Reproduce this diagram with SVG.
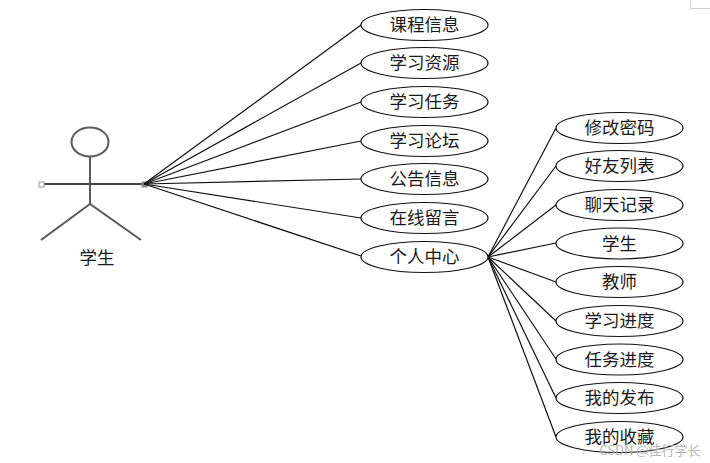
<svg xmlns="http://www.w3.org/2000/svg" width="710" height="463" viewBox="0 0 710 463">
<style>
.bg{fill:#fff}
.c line{stroke:#111;stroke-width:1.2}
.u ellipse{fill:#fff;stroke:#111;stroke-width:1.2}
text{font-family:"Noto Sans CJK SC","Noto Sans CJK JP",serif;font-size:17.500px;fill:#1a1a1a;text-anchor:middle}
.a{fill:none;stroke:#5a5a5a;stroke-width:2}
</style>
<rect class="bg" width="710" height="463"/>
<path d="M690.500 0V8.500H710" fill="none" stroke="#d0d0d0"/>
<g id="actor">
<ellipse class="a" cx="90" cy="142" rx="18.500" ry="14.500"/>
<path class="a" d="M90 157V204M41 240L90 204L141 240"/>
<path d="M44 184H145" fill="none" stroke="#444" stroke-width="2"/>
<rect x="39" y="182" width="5" height="5" fill="#fff" stroke="#999"/>
<rect x="142" y="182" width="5" height="5" fill="#888" stroke="#888"/>
<text x="97" y="264">学生</text>
</g>
<g id="connectors" class="c">
<line x1="144" y1="184" x2="361" y2="25"/>
<line x1="144" y1="184" x2="361" y2="63"/>
<line x1="144" y1="184" x2="361" y2="102"/>
<line x1="144" y1="184" x2="361" y2="141"/>
<line x1="144" y1="184" x2="361" y2="179"/>
<line x1="144" y1="184" x2="361" y2="218"/>
<line x1="144" y1="184" x2="361" y2="256"/>
<line x1="488" y1="257" x2="556" y2="128"/>
<line x1="488" y1="257" x2="556" y2="166"/>
<line x1="488" y1="257" x2="556" y2="205"/>
<line x1="488" y1="257" x2="556" y2="243"/>
<line x1="488" y1="257" x2="556" y2="282"/>
<line x1="488" y1="257" x2="556" y2="321"/>
<line x1="488" y1="257" x2="556" y2="359"/>
<line x1="488" y1="257" x2="556" y2="398"/>
<line x1="488" y1="257" x2="556" y2="437"/>
</g>
<g id="n1" class="u"><ellipse cx="424.500" cy="25" rx="63.500" ry="15.500"/><text x="424.500" y="31">课程信息</text></g>
<g id="n2" class="u"><ellipse cx="424.500" cy="63" rx="63.500" ry="15.500"/><text x="424.500" y="69">学习资源</text></g>
<g id="n3" class="u"><ellipse cx="424.500" cy="102" rx="63.500" ry="15.500"/><text x="424.500" y="108">学习任务</text></g>
<g id="n4" class="u"><ellipse cx="424.500" cy="141" rx="63.500" ry="15.500"/><text x="424.500" y="147">学习论坛</text></g>
<g id="n5" class="u"><ellipse cx="424.500" cy="179" rx="63.500" ry="15.500"/><text x="424.500" y="185">公告信息</text></g>
<g id="n6" class="u"><ellipse cx="424.500" cy="218" rx="63.500" ry="15.500"/><text x="424.500" y="224">在线留言</text></g>
<g id="n7" class="u"><ellipse cx="424.500" cy="257" rx="63.500" ry="15.500"/><text x="424.500" y="263">个人中心</text></g>
<g id="m1" class="u"><ellipse cx="619.500" cy="128" rx="63.500" ry="15.500"/><text x="619.500" y="134">修改密码</text></g>
<g id="m2" class="u"><ellipse cx="619.500" cy="166" rx="63.500" ry="15.500"/><text x="619.500" y="172">好友列表</text></g>
<g id="m3" class="u"><ellipse cx="619.500" cy="205" rx="63.500" ry="15.500"/><text x="619.500" y="211">聊天记录</text></g>
<g id="m4" class="u"><ellipse cx="619.500" cy="243.500" rx="63.500" ry="15.500"/><text x="619.500" y="249.500">学生</text></g>
<g id="m5" class="u"><ellipse cx="619.500" cy="282" rx="63.500" ry="15.500"/><text x="619.500" y="288">教师</text></g>
<g id="m6" class="u"><ellipse cx="619.500" cy="321" rx="63.500" ry="15.500"/><text x="619.500" y="327">学习进度</text></g>
<g id="m7" class="u"><ellipse cx="619.500" cy="359.500" rx="63.500" ry="15.500"/><text x="619.500" y="365.500">任务进度</text></g>
<g id="m8" class="u"><ellipse cx="619.500" cy="398" rx="63.500" ry="15.500"/><text x="619.500" y="404">我的发布</text></g>
<g id="m9" class="u"><ellipse cx="619.500" cy="437" rx="63.500" ry="15.500"/><text x="619.500" y="443">我的收藏</text></g>
<text x="650" y="455" style="font-size:13px;fill:#aaa;opacity:.85">CSDN @佳行学长</text>
</svg>
